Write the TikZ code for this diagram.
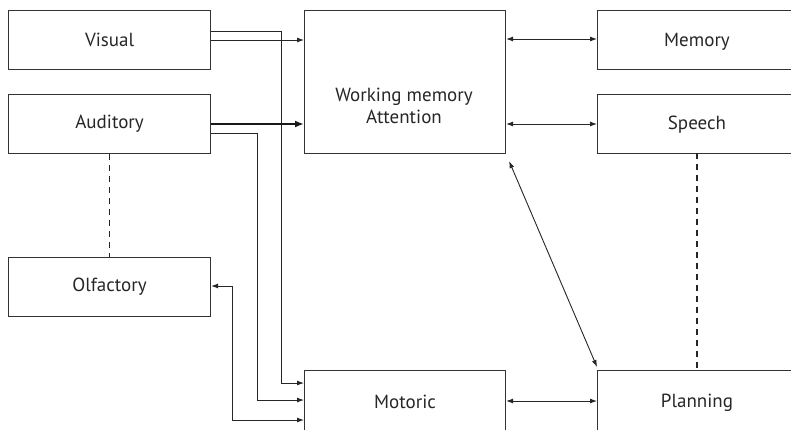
\documentclass[tikz,border=0pt]{standalone}
\usepackage{fontspec}
\setmainfont{PT Sans}
\usetikzlibrary{arrows.meta}
\begin{document}
\begin{tikzpicture}[x=1pt,y=-1pt,
  lbl/.style={font=\fontsize{19}{22}\selectfont,text=black!85},
  box/.style={draw=black!80,line width=1.1pt,fill=none,inner sep=0pt,anchor=north west,lbl},
  conn/.style={draw=black!85,line width=0.9pt,-{Latex[length=7pt,width=5pt]}},
  biconn/.style={draw=black!85,line width=0.9pt,{Latex[length=7pt,width=5pt]}-{Latex[length=7pt,width=5pt]}},
  thickconn/.style={draw=black!90,line width=1.8pt,-{Latex[length=9pt,width=7pt]}},
  dashconn/.style={draw=black!85,line width=1.6pt,dash pattern=on 6pt off 5pt}]
\useasboundingbox (0,0) rectangle (791,429);
\clip (0,0) rectangle (791,429);
\node[box,minimum width=202pt,minimum height=59pt] (visual) at (8,10) {Visual};
\node[box,minimum width=202pt,minimum height=59pt] (auditory) at (8,94) {Auditory};
\node[box,minimum width=202pt,minimum height=59pt] (olfactory) at (8,257) {Olfactory};
\node[box,minimum width=201pt,minimum height=143pt] (wm) at (304,10) {};
\node[lbl,align=center,font=\fontsize{19}{22}\selectfont] (wmtext) at (404,106) {Working memory\\Attention};
\node[box,minimum width=201pt,minimum height=62pt] (motoric) at (304,370) {Motoric};
\node[box,minimum width=200pt,minimum height=59pt] (memory) at (597,10) {};
\node[lbl] (memtext) at (697,42) {Memory};
\node[box,minimum width=200pt,minimum height=59pt] (speech) at (597,94) {};
\node[lbl] (speechtext) at (697,125) {Speech};
\node[box,minimum width=200pt,minimum height=62pt] (planning) at (597,370) {};
\node[lbl] (plantext) at (697,403) {Planning};
% Visual
\draw[conn] ([yshift=-21pt]visual.north east) -| (281,383) -- ([yshift=-13pt]motoric.north west);
\draw[conn] ([yshift=-30pt]visual.north east) -- ([yshift=-30pt]wm.north west);
% Auditory
\draw[thickconn] ([yshift=-30pt]auditory.north east) -- ([yshift=-114pt]wm.north west);
\draw[conn] ([yshift=-39pt]auditory.north east) -| (257,400) -- ([yshift=-30pt]motoric.north west);
% Olfactory <-> Motoric
\draw[biconn] ([yshift=-29pt]olfactory.north east) -| (232,420) -- ([yshift=-50pt]motoric.north west);
% WM right side
\draw[biconn] ([yshift=-29pt]wm.north east) -- ([yshift=-29pt]memory.north west);
\draw[biconn] ([yshift=-114pt]wm.north east) -- ([yshift=-30pt]speech.north west);
\draw[biconn] ([xshift=3pt,yshift=-7pt]wm.south east) -- ([yshift=3pt]planning.north west);
\draw[biconn] ([yshift=-31pt]motoric.north east) -- ([yshift=-31pt]planning.north west);
% dashed
\draw[dashconn] (auditory.south) -- (olfactory.north);
\draw[dashconn] (697,153) -- (697,370);
\end{tikzpicture}
\end{document}
